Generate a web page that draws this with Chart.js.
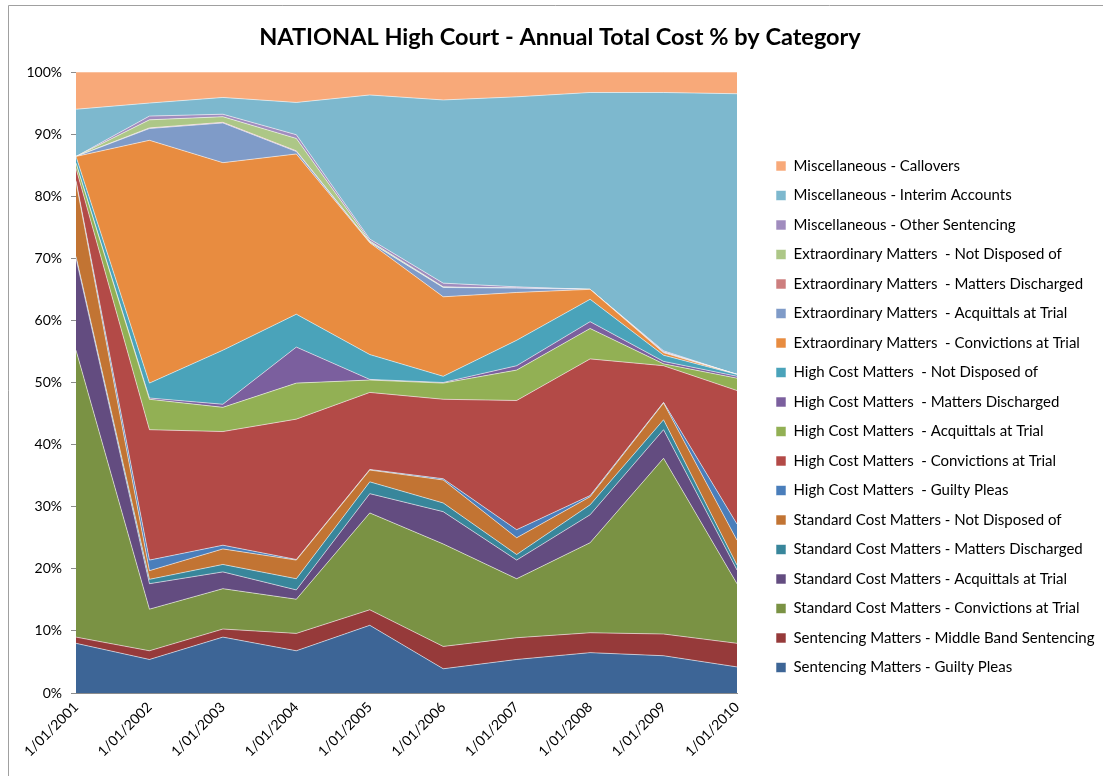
<!DOCTYPE html>
<html>
<head>
<meta charset="utf-8">
<script src="https://cdn.jsdelivr.net/npm/chart.js@4.4.1/dist/chart.umd.min.js"></script>
<style>
html,body{margin:0;padding:0;background:#fff;}
canvas{display:block;}
</style>
</head>
<body>
<canvas id="c" width="1103" height="776"></canvas>
<script>
// ---- data (percent of annual total cost) ----
const categories = ['1/01/2001','1/01/2002','1/01/2003','1/01/2004','1/01/2005','1/01/2006','1/01/2007','1/01/2008','1/01/2009','1/01/2010'];

const seriesNames = [
  'Sentencing Matters - Guilty Pleas',
  'Sentencing Matters - Middle Band Sentencing',
  'Standard Cost Matters - Convictions at Trial',
  'Standard Cost Matters - Acquittals at Trial',
  'Standard Cost Matters - Matters Discharged',
  'Standard Cost Matters - Not Disposed of',
  'High Cost Matters  - Guilty Pleas',
  'High Cost Matters  - Convictions at Trial',
  'High Cost Matters  - Acquittals at Trial',
  'High Cost Matters  - Matters Discharged',
  'High Cost Matters  - Not Disposed of',
  'Extraordinary Matters  - Convictions at Trial',
  'Extraordinary Matters  - Acquittals at Trial',
  'Extraordinary Matters  - Matters Discharged',
  'Extraordinary Matters  - Not Disposed of',
  'Miscellaneous - Other Sentencing',
  'Miscellaneous - Interim Accounts',
  'Miscellaneous - Callovers'
];

const smGuiltyPleas   = [8.0, 5.4, 9.0, 6.8, 10.9, 3.9, 5.4, 6.5, 6.0, 4.2];
const smMiddleBand    = [1.0, 1.4, 1.3, 2.8, 2.5, 3.6, 3.5, 3.2, 3.5, 3.8];
const scConvictions   = [46.2, 6.7, 6.5, 5.5, 15.6, 16.5, 9.5, 14.5, 28.3, 9.6];
const scAcquittals    = [14.8, 4.1, 2.7, 1.5, 3.1, 5.2, 3.0, 4.5, 4.6, 2.2];
const scDischarged    = [0.3, 0.7, 1.2, 1.8, 1.9, 1.4, 0.9, 1.6, 1.6, 0.8];
const scNotDisposed   = [12.0, 1.4, 2.5, 3.0, 1.9, 3.7, 2.7, 1.3, 2.7, 4.0];
const hcGuiltyPleas   = [0.2, 1.7, 0.6, 0.1, 0.1, 0.2, 1.3, 0.2, 0.1, 2.6];
const hcConvictions   = [2.0, 21.0, 18.3, 22.6, 12.4, 12.8, 20.8, 22.0, 5.9, 21.5];
const hcAcquittals    = [0.8, 4.9, 3.9, 5.8, 2.0, 2.6, 4.9, 4.9, 0.3, 2.0];
const hcDischarged    = [0.0, 0.2, 0.5, 5.8, 0.1, 0.1, 0.7, 1.1, 0.4, 0.3];
const hcNotDisposed   = [1.1, 2.4, 8.7, 5.3, 4.0, 1.0, 4.1, 3.6, 1.0, 0.3];
const emConvictions   = [0.0, 39.1, 30.2, 25.8, 18.0, 12.8, 7.7, 1.6, 0.4, 0.0];
const emAcquittals    = [0.0, 1.9, 6.4, 0.4, 0.1, 1.5, 0.7, 0.0, 0.1, 0.0];
const emDischarged    = [0.0, 0.1, 0.1, 0.1, 0.0, 0.0, 0.0, 0.0, 0.0, 0.0];
const emNotDisposed   = [0.0, 1.3, 0.9, 2.0, 0.2, 0.1, 0.0, 0.0, 0.0, 0.0];
const miscOtherSent   = [0.0, 0.6, 0.4, 0.6, 0.3, 0.6, 0.2, 0.0, 0.2, 0.0];
const miscInterim     = [7.6, 2.1, 2.7, 5.2, 23.2, 29.5, 30.6, 31.7, 41.6, 45.2];
const miscCallovers   = [6.0, 5.0, 4.1, 4.9, 3.7, 4.5, 4.0, 3.3, 3.3, 3.5];

const yTicks = [0,10,20,30,40,50,60,70,80,90,100];

const seriesValues = [smGuiltyPleas, smMiddleBand, scConvictions, scAcquittals, scDischarged, scNotDisposed,
  hcGuiltyPleas, hcConvictions, hcAcquittals, hcDischarged, hcNotDisposed,
  emConvictions, emAcquittals, emDischarged, emNotDisposed, miscOtherSent, miscInterim, miscCallovers];

// ---- styles ----
const colors = ['#3D6596','#963A3A','#7A9244','#634C80','#38869B','#C27433',
  '#4A7EBB','#B34A47','#92B054','#7B5F9E','#4AA3BA',
  '#E88C40','#7F9BC8','#CD7E7E','#ADC787','#A08CBE','#7DB8CE','#F8A979'];

const FONT = 'Lato, "Open Sans", sans-serif';
const PLOT_LEFT = 76, PLOT_RIGHT = 737, PLOT_BOTTOM = 693;
const PAD_LEFT = 17;
const LEGEND_BOX_X = 776;
const LEGEND_PAD = 14.5;

const frame = {
  id: 'frame',
  beforeDraw(chart) {
    const ctx = chart.ctx;
    ctx.save();
    ctx.fillStyle = '#fff';
    ctx.fillRect(0, 0, chart.width, chart.height);
    ctx.strokeStyle = '#a0a0a0';
    ctx.lineWidth = 1;
    ctx.beginPath();
    ctx.moveTo(8.5, chart.height);
    ctx.lineTo(8.5, 5.5);
    ctx.lineTo(chart.width, 5.5);
    ctx.stroke();
    ctx.restore();
  }
};

const legendPlace = {
  id: 'legendPlace',
  beforeLayout(chart) {
    const lg = chart.legend;
    if (lg && !lg._placed) {
      const origFit = lg.fit.bind(lg);
      const origDraw = lg.draw.bind(lg);
      lg.fit = function () { origFit(); this.width = chart.width - PLOT_RIGHT; };
      lg.draw = function () {
        const l = this.left;
        this.left = LEGEND_BOX_X - LEGEND_PAD;
        origDraw();
        this.left = l;
      };
      lg._placed = true;
    }
  }
};

const datasets = seriesValues.map((vals, i) => ({
  label: seriesNames[i],
  data: vals,
  backgroundColor: colors[i],
  borderColor: 'rgba(255,255,255,0.55)',
  borderWidth: 1,
  fill: i === 0 ? 'origin' : '-1',
  pointRadius: 0,
  pointHoverRadius: 0,
  tension: 0
}));

new Chart(document.getElementById('c'), {
  type: 'line',
  data: { labels: categories, datasets },
  plugins: [frame, legendPlace],
  options: {
    responsive: false,
    animation: false,
    layout: { padding: { left: PAD_LEFT, right: 0, top: 0, bottom: 0 } },
    plugins: {
      title: {
        display: true,
        text: 'NATIONAL High Court - Annual Total Cost % by Category',
        color: '#000',
        font: { family: FONT, size: 23.5, weight: 'bold', lineHeight: 1.2 },
        padding: { top: 22.9, bottom: 20.9 }
      },
      legend: {
        position: 'right',
        reverse: true,
        title: { display: true, text: ' ', font: { size: 12, lineHeight: 1.2 }, padding: { top: 21.55, bottom: 21.55 } },
        labels: {
          color: '#000',
          font: { family: FONT, size: 15 },
          boxWidth: 10,
          boxHeight: 10,
          padding: LEGEND_PAD
        }
      },
      tooltip: { enabled: false }
    },
    scales: {
      x: {
        offset: false,
        grid: { display: true, drawOnChartArea: false, drawTicks: false },
        border: { display: true, color: '#8c8c8c' },
        ticks: { color: '#000', font: { family: FONT, size: 14 }, autoSkip: false, maxRotation: 45, minRotation: 45, padding: 6 },
        afterFit(s) { s.height = 776 - PLOT_BOTTOM; }
      },
      y: {
        stacked: true,
        min: 0,
        max: 100,
        afterBuildTicks(s) { s.ticks = yTicks.map(v => ({ value: v })); },
        ticks: { color: '#000', font: { family: FONT, size: 14 }, padding: 9, callback: v => v + '%' },
        grid: { drawOnChartArea: false, drawTicks: true, tickLength: 5, color: '#8c8c8c' },
        border: { display: true, color: '#8c8c8c' },
        afterFit(s) { s.width = PLOT_LEFT - PAD_LEFT; }
      }
    }
  }
});
</script>
</body>
</html>
